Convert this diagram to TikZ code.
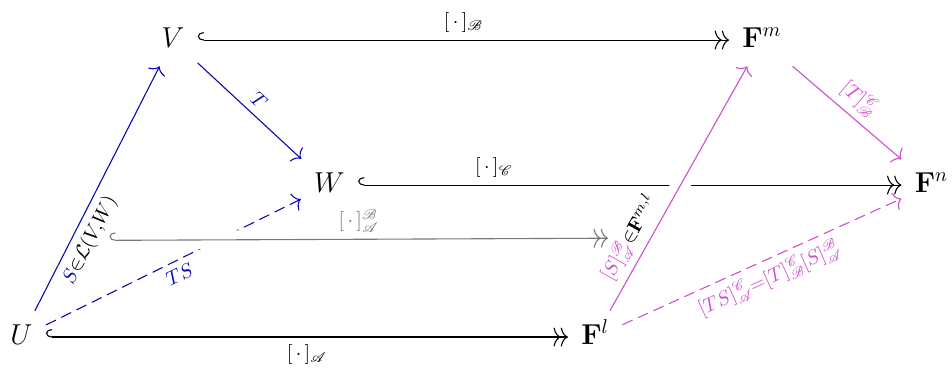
\documentclass[tikz,border=0pt]{standalone}
\usepackage{amsmath,amssymb}
\usepackage{mathrsfs}
\usepackage{tikz}
\usetikzlibrary{arrows.meta}
\definecolor{linblue}{RGB}{10,10,175}
\definecolor{matpink}{RGB}{205,80,205}
\definecolor{crdgray}{RGB}{120,120,120}
\tikzset{
  obj/.style={inner sep=6.5pt, text height=10pt, text depth=2.8pt},
  emb/.style={draw=black, line width=0.55pt,
    {Hooks[right,length=3pt,width=8pt]}-{To[length=3.6pt,width=9.5pt]To[length=3.6pt,width=9.5pt]}},
  crd/.style={draw=crdgray, line width=0.55pt,
    {Hooks[right,length=3pt,width=8pt]}-{To[length=3.6pt,width=9.5pt]To[length=3.6pt,width=9.5pt]}},
  lin/.style={draw=linblue, line width=0.55pt, -{To[length=3.6pt,width=9.5pt]}},
  mat/.style={draw=matpink, line width=0.55pt, -{To[length=3.6pt,width=9.5pt]}},
  dsh/.style={dash pattern=on 5.5pt off 3pt},
  xover/.style={preaction={draw=white, arrows=-, line width=9.4pt}},
  lbl/.style={midway},
}

\begin{document}
\begin{tikzpicture}[font=\Large]
  \useasboundingbox (0,0) rectangle (16.73,6.485);
  % vector spaces
  \node[obj] (V)  at (3.04,5.781)  {$V$};
  \node[obj] (Fm) at (13.39,5.781) {$\mathbf{F}^m$};
  \node[obj] (W)  at (5.79,3.233)  {$W$};
  \node[obj] (Fn) at (16.37,3.233) {$\mathbf{F}^n$};
  \node[obj] (U)  at (0.378,0.562) {$U$};
  \node[obj] (Fl) at (10.46,0.562) {$\mathbf{F}^l$};
  % coordinate maps
  \draw[emb] (V) -- (Fm) node[lbl, above] {$\scriptstyle[\,\cdot\,]_{\mathscr{B}}$};
  \draw[emb] (W) -- (Fn) node[lbl, above, pos=0.25] {$\scriptstyle[\,\cdot\,]_{\mathscr{C}}$};
  \draw[emb] (U) -- (Fl) node[lbl, below] {$\scriptstyle[\,\cdot\,]_{\mathscr{A}}$};
  % linear maps
  \draw[lin] (U) -- (V) node[lbl, sloped, below, pos=0.32] (lS)
    {$\scriptstyle{\color{linblue}S}\in\mathcal{L}(V,W)$};
  \draw[lin] (V) -- (W) node[lbl, sloped, above, text=linblue] {$\scriptstyle T$};
  \draw[lin, dsh] (U) -- (W) node[lbl, sloped, below, text=linblue] {$\scriptstyle TS$};
  % matrices
  \draw[mat, xover] (Fl) -- (Fm) node[lbl, sloped, above, pos=0.26] (lM)
    {$\scriptstyle{\color{matpink}[S]^{\mathscr{B}}_{\mathscr{A}}}\in\mathbf{F}^{m,l}$};
  \draw[crd, xover] (lS) -- (lM) node[lbl, above, text=crdgray] {$\scriptstyle[\,\cdot\,]^{\mathscr{B}}_{\mathscr{A}}$};
  \draw[mat] (Fm) -- (Fn) node[lbl, sloped, above, text=matpink] {$\scriptstyle[T]^{\mathscr{C}}_{\mathscr{B}}$};
  \draw[mat, dsh] (Fl) -- (Fn) node[lbl, sloped, below, text=matpink]
    {$\scriptstyle[TS]^{\mathscr{C}}_{\mathscr{A}}=[T]^{\mathscr{C}}_{\mathscr{B}}[S]^{\mathscr{B}}_{\mathscr{A}}$};
\end{tikzpicture}
\end{document}
